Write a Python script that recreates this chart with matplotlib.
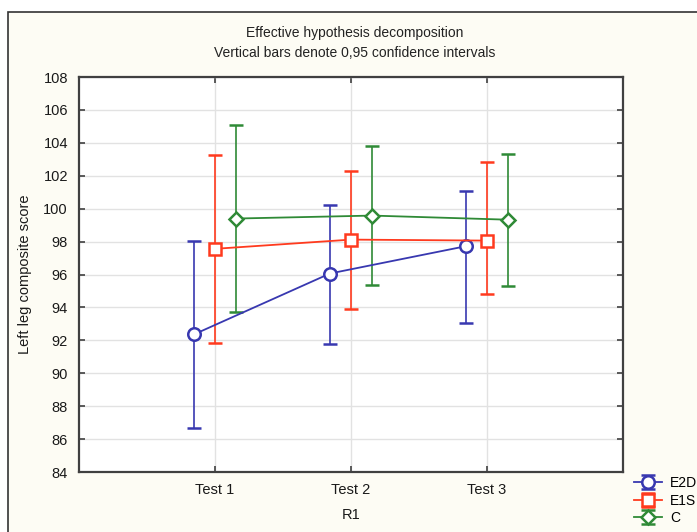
import matplotlib
matplotlib.use("Agg")
import matplotlib.pyplot as plt
from matplotlib.patches import Rectangle
import numpy as np

plt.rcParams['font.family'] = ['Liberation Sans', 'DejaVu Sans']

categories = ["Test 1", "Test 2", "Test 3"]
groups = ["E2D", "E1S", "C"]

e2d_mean = [92.36, 96.06, 97.72]
e2d_low = [86.7, 91.8, 93.07]
e2d_high = [98.06, 100.2, 101.07]

e1s_mean = [97.56, 98.12, 98.06]
e1s_low = [91.86, 93.88, 94.83]
e1s_high = [103.27, 102.28, 102.83]

c_mean = [99.4, 99.58, 99.33]
c_low = [93.74, 95.37, 95.3]
c_high = [105.07, 103.8, 103.3]

yticks = [84, 86, 88, 90, 92, 94, 96, 98, 100, 102, 104, 106, 108]

W, H = 697, 532
fig = plt.figure(figsize=(W / 100, H / 100), dpi=100)
fig.patch.set_facecolor('white')
# cream frame panel
fig.patches.append(Rectangle((8 / W, -0.01), 1 - 8 / W + 0.01, 1 - 12 / H + 0.01,
                             transform=fig.transFigure, facecolor='#fdfcf4',
                             edgecolor='#333333', linewidth=1.2, zorder=-10))

ax = fig.add_axes([79 / W, (H - 472) / H, 544 / W, 395 / H])
ax.set_facecolor('white')

x = np.arange(1, len(categories) + 1)
offsets = [-0.155, 0.0, 0.155]
colors = ['#3838b0', '#ff3a1e', '#2f8a36']
markers = ['o', 's', 'D']
msizes = [9, 8.5, 7.5]
series = [(e2d_mean, e2d_low, e2d_high), (e1s_mean, e1s_low, e1s_high),
          (c_mean, c_low, c_high)]

handles = []
for (m, lo, hi), off, col, mk, ms, name in zip(series, offsets, colors, markers, msizes, groups):
    m = np.array(m); lo = np.array(lo); hi = np.array(hi)
    h = ax.errorbar(x + off, m, yerr=[m - lo, hi - m], color=col, marker=mk,
                    markersize=ms, markerfacecolor='white', markeredgecolor=col,
                    markeredgewidth=1.8, linewidth=1.3, elinewidth=1.2,
                    capsize=5, capthick=1.2, label=name, zorder=3)
    handles.append(h)

ax.set_xlim(0, 4)
ax.set_ylim(84, 108)
ax.set_xticks(x)
ax.set_xticklabels(categories)
ax.set_yticks(yticks)
ax.grid(True, color='#e2e2e2', linewidth=1.0, zorder=0)
ax.set_axisbelow(True)
for s in ax.spines.values():
    s.set_color('#404040')
    s.set_linewidth(1.6)
ax.tick_params(direction='in', length=4, width=1.2, color='#404040',
               top=True, right=True, labelsize=10.5, labelcolor='#1a1a1a', pad=8)

ax.set_xlabel('R1', fontsize=10.5, color='#1a1a1a', labelpad=8)
ax.set_ylabel('Left leg composite score', fontsize=10.5, color='#1a1a1a', labelpad=8)

fig.text(355 / W, 1 - 33 / H, 'Effective hypothesis decomposition',
         ha='center', va='center', fontsize=10, color='#222222')
fig.text(355 / W, 1 - 53 / H, 'Vertical bars denote 0,95 confidence intervals',
         ha='center', va='center', fontsize=10, color='#222222')

leg = fig.legend(handles=handles, labels=groups, loc='upper left',
                 bbox_to_anchor=(630 / W, 1 - 472 / H), frameon=False,
                 fontsize=10, handlelength=2.0, handletextpad=0.6,
                 labelspacing=0.25, borderaxespad=0, borderpad=0.3)

fig.savefig('out.png', dpi=100, facecolor=fig.get_facecolor())
